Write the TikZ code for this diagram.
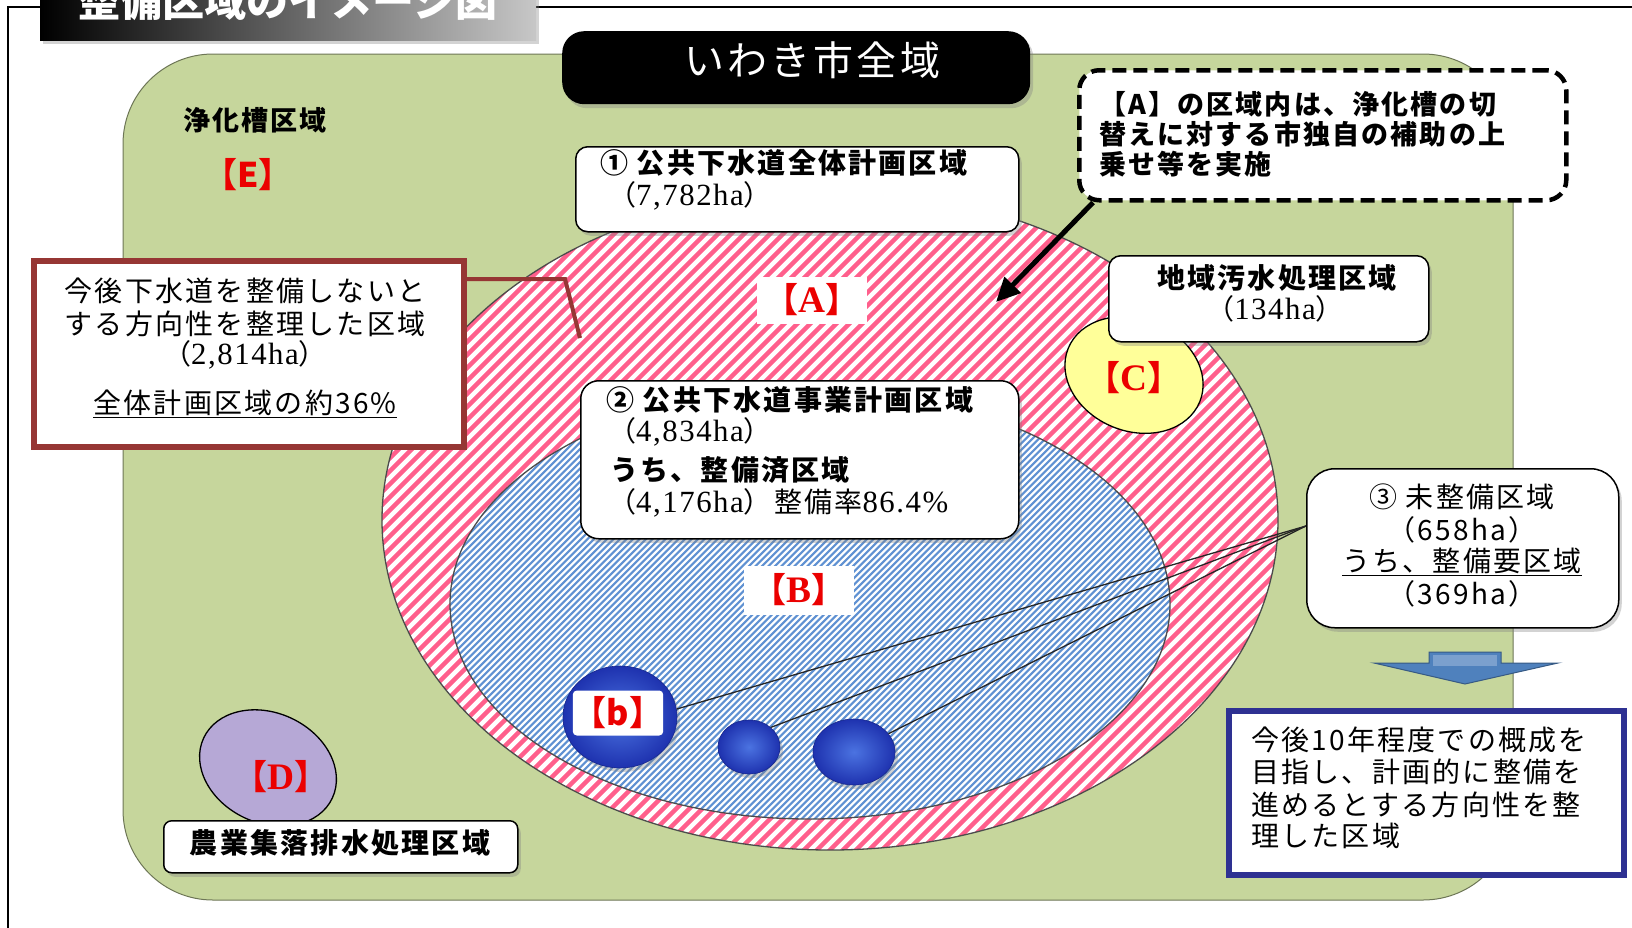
\documentclass[tikz,border=0pt]{standalone}
\usepackage{fontspec}
\setmainfont{Noto Sans CJK JP}[LetterSpace=8]
\newfontfamily\plainjp{Noto Sans CJK JP}
\newfontfamily\serifnum{Liberation Serif}[Scale=1.1,LetterSpace=5]
\usetikzlibrary{shapes.geometric,arrows.meta,shadows}
\definecolor{bggreen}{RGB}{198,214,156}
\definecolor{hpink}{RGB}{255,95,140}
\definecolor{hblue}{RGB}{95,145,210}
\definecolor{cyellow}{RGB}{255,255,153}
\definecolor{dpurple}{RGB}{182,168,214}
\definecolor{dred}{RGB}{150,54,52}
\definecolor{navyb}{RGB}{46,49,146}
\definecolor{arrowblue}{RGB}{79,129,189}
\definecolor{ballin}{RGB}{75,115,225}
\definecolor{ballout}{RGB}{30,50,175}
\definecolor{lblred}{RGB}{235,0,0}
\newcommand\fsz[1]{\fontsize{#1}{#1}\selectfont}
\newcommand\nm[1]{{\serifnum #1}}
\tikzset{
  shad/.style={drop shadow={shadow xshift=3pt,shadow yshift=-4pt,opacity=0.35}},
  whitebox/.style={draw=black,line width=1.5,fill=white,rounded corners=#1,shad,inner sep=0,anchor=north west},
  whitebox/.default=12,
  txt/.style={inner sep=0,font=\fsz{28}},
  btxt/.style={inner sep=0,font=\fsz{28}\bfseries},
  lbl/.style={inner sep=0,text=lblred,font=\plainjp\fsz{34}\bfseries},
  ball/.style={ellipse,inner sep=0,shading=radial,inner color=ballin,outer color=ballout,draw=ballout!80!black,line width=0.6,shad},
  feeder/.style={line width=1.3,black!85},
}
\begin{document}
\begin{tikzpicture}[x=1pt,y=-1pt]
\useasboundingbox (0,0) rectangle (1632,927);
% outer frame
\draw[line width=1.5] (8,940) -- (8,7) -- (1645,7);
% title box
\node[anchor=north west,minimum width=496,minimum height=84,inner sep=0,left color=black,middle color=black,right color=black!22,shad] (title) at (40,-44) {};
\node[inner sep=0,text=white,font=\plainjp\fsz{42}\bfseries] (titletxt) at (288,1) {整備区域のイメージ図};
% green region
\fill[bggreen,draw=black!45!bggreen,line width=1] (123,54) [rounded corners=90] rectangle (1513,900);
% pink hatched ellipse A
\begin{scope}
\clip (830,520) ellipse (448 and 330);
\fill[white] (830,520) ellipse (448 and 330);
\foreach \c in {770,783,...,1935} {\draw[hpink,line width=4.3] (\c-900,900) -- (\c,0);}
\end{scope}
\draw[black!70,line width=1.3] (830,520) ellipse (448 and 330);
% blue hatched ellipse B
\begin{scope}
\clip (810,604) ellipse (360 and 215);
\fill[white] (810,604) ellipse (360 and 215);
\foreach \c in {990,996.5,...,1840} {\draw[hblue,line width=2.1] (\c-900,900) -- (\c,0);}
\end{scope}
\draw[black!70,line width=1.3] (810,604) ellipse (360 and 215);
% C and D ellipses
\draw[fill=cyellow,line width=1.3,rotate around={-22:(1134,375)}] (1134,375) ellipse (71 and 56);
\draw[fill=dpurple,line width=1.3,rotate around={-25:(268,768)}] (268,768) ellipse (71 and 55);
% labels
\node[lbl] (lblE) at (248,175) {【E】};
\node[lbl,fill=white,minimum width=110,minimum height=47] (lblA) at (812,300) {【\nm{A}】};
\node[lbl,fill=white,minimum width=110,minimum height=49] (lblB) at (799,590) {【\nm{B}】};
\node[lbl] (lblC) at (1134,378) {【\nm{C}】};
\node[lbl] (lblD) at (281,777) {【\nm{D}】};
\node[btxt,font=\fsz{27}\bfseries] (jokaso) at (255,120) {浄化槽区域};
% blue balls
\node[ball,minimum width=114,minimum height=102] (bb) at (620,717) {};
\node[ball,minimum width=62,minimum height=54] (bs) at (749,747) {};
\node[ball,minimum width=82,minimum height=66] (bm) at (854,752) {};
\node[lbl,fill=white,rounded corners=4,minimum width=90,minimum height=45] (lblb) at (618,713) {【b】};
% feeder lines from box 3
\coordinate (hub) at (1306,526);
\draw[feeder] (hub) -- (bb.8);
\draw[feeder] (hub) -- (bs.42);
\draw[feeder] (hub) -- (bm.28);
% black title box
\node[anchor=north west,minimum width=468,minimum height=73,inner sep=0,fill=black,rounded corners=22,shad] (zentai) at (562,31) {};
\node[inner sep=0,text=white,font=\fsz{40}] (zentaitxt) at (812,60) {いわき市全域};
% box 1
\node[whitebox] (box1) at (575,146) [minimum width=443,minimum height=85] {};
\node[btxt,anchor=west] (b1a) at (600,163) {① 公共下水道全体計画区域};
\node[txt,anchor=west] (b1b) at (608,196) {（\nm{7,782ha}）};
% box 2
\node[whitebox=18] (box2) at (580,380) [minimum width=438,minimum height=158] {};
\node[btxt,anchor=west] (b2a) at (606,400) {② 公共下水道事業計画区域};
\node[txt,anchor=west] (b2b) at (608,432) {（\nm{4,834ha}）};
\node[btxt,anchor=west] (b2c) at (610,470) {うち、整備済区域};
\node[txt,anchor=west] (b2d) at (608,503) {（\nm{4,176ha}）整備率\nm{86.4\%}};
% chiiki box
\node[whitebox] (boxc) at (1108,255) [minimum width=320,minimum height=86] {};
\node[btxt] (bca) at (1277,278) {地域汚水処理区域};
\node[txt] (bcb) at (1275,309) {（\nm{134ha}）};
% nogyo box
\node[whitebox=8] (boxd) at (163,820) [minimum width=354,minimum height=52] {};
\node[btxt] (bda) at (340,843) {農業集落排水処理区域};
% box 3
\node[whitebox=28] (box3) at (1306,468) [minimum width=312,minimum height=159] {};
\node[txt] (b3a) at (1462,497) {③ 未整備区域};
\node[txt] (b3b) at (1462,530) {（658ha）};
\node[txt] (b3c) at (1462,562) {\underline{うち、整備要区域}};
\node[txt] (b3d) at (1462,594) {（369ha）};
% red box
\node[draw=dred,line width=6,fill=white,inner sep=0,anchor=north west,minimum width=430,minimum height=186] (redbox) at (31,258) {};
\node[txt] (ra) at (245,291) {今後下水道を整備しないと};
\node[txt] (rb) at (245,324) {する方向性を整理した区域};
\node[txt] (rc) at (245,355) {（\nm{2,814ha}）};
\node[txt] (rd) at (245,404) {\underline{全体計画区域の約36\%}};
\coordinate (rj) at (565,279);
\coordinate (rk) at (580,338);
\draw[dred,line width=4] (redbox.east |- rj) -- (rj) -- (rk);
% dashed box
\node[anchor=north west,minimum width=487,minimum height=130,inner sep=0,fill=white,draw=black,line width=4.5,dash pattern=on 14pt off 7pt,rounded corners=20] (dbox) at (1077,68) {};
\node[btxt,font=\fsz{27}\bfseries,anchor=west] (da) at (1099,104) {【A】の区域内は、浄化槽の切};
\node[btxt,font=\fsz{27}\bfseries,anchor=west] (db) at (1099,134) {替えに対する市独自の補助の上};
\node[btxt,font=\fsz{27}\bfseries,anchor=west] (dc) at (1099,164) {乗せ等を実施};
\coordinate (atip) at (996,302);
\draw[line width=5,-{Triangle[length=24pt,width=22pt]}] ([xshift=16pt]dbox.south west) -- (atip);
% blue down arrow
\fill[arrowblue,draw=arrowblue!70!black,line width=1] (1374,663) -- (1429,663) -- (1429,652) -- (1501,652) -- (1501,663) -- (1558,663) -- (1465,684) -- cycle;
\fill[arrowblue!75!white] (1433,655) rectangle (1497,666);
% navy box
\node[draw=navyb,line width=6,fill=white,inner sep=0,anchor=north west,minimum width=395,minimum height=164] (navybox) at (1226,708) {};
\node[txt,anchor=west] (na) at (1251,740) {今後10年程度での概成を};
\node[txt,anchor=west] (nb) at (1251,772) {目指し、計画的に整備を};
\node[txt,anchor=west] (nc) at (1251,805) {進めるとする方向性を整};
\node[txt,anchor=west] (nd) at (1251,836) {理した区域};
\end{tikzpicture}
\end{document}
